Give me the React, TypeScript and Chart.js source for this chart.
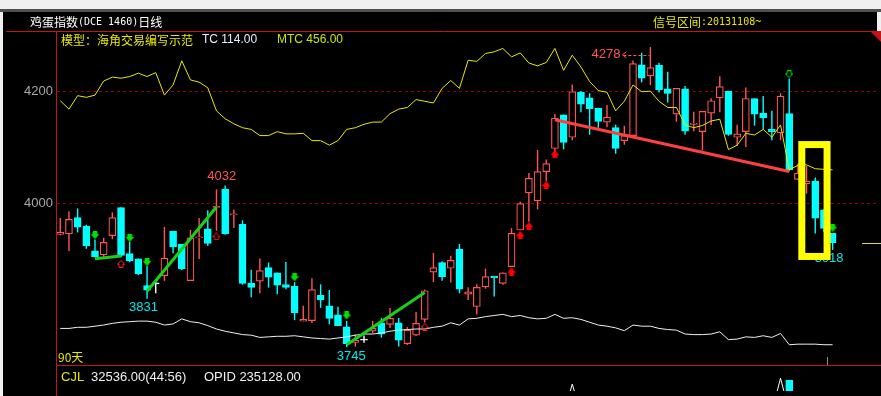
import React, { useEffect, useRef } from 'react';
import { Chart, registerables } from 'chart.js';

Chart.register(...registerables);

// ---------- data ----------
const opens = [3945,3946,3975,3960,3916,3909,3943,3993,3911,3902,
 3854,3858,3872,3951,3928,3863,3939,3955,3993,4026,
 3980,3963,3858,3862,3886,3877,3856,3853,3791,3792,
 3837,3818,3802,3781,3753,3758,3773,3788,3785,3788,
 3751,3766,3794,3878,3895,3885,3919,3839,3817,3852,
 3870,3858,3888,3953,4019,4005,4057,4098,4158,4118,
 4198,4188,4170,4145,4135,4112,4121,4247,4227,4246,
 4204,4159,4204,4141,4128,4161,4188,4200,4118,4128,
 4187,4161,4132,4126,4160,4043,4035,4040,3989,3947];

const highs = [3974,3986,3991,3962,3936,3939,3984,3993,3932,3902,
 3889,3865,3958,3951,3928,3953,3974,3988,4025,4032,
 3989,3970,3882,3902,3895,3877,3896,3860,3818,3867,
 3856,3846,3816,3791,3767,3765,3791,3796,3814,3796,
 3780,3807,3847,3912,3897,3907,3928,3851,3856,3884,
 3870,3877,3956,4003,4054,4095,4078,4159,4158,4211,
 4200,4196,4170,4175,4140,4138,4254,4268,4278,4250,
 4234,4205,4209,4163,4164,4187,4226,4200,4140,4206,
 4187,4191,4165,4196,4222,4071,4067,4046,3990,3947];

const lows = [3944,3916,3949,3920,3905,3905,3937,3905,3896,3873,
 3831,3841,3863,3912,3882,3863,3902,3925,3952,3945,
 3957,3856,3834,3841,3851,3839,3848,3793,3791,3788,
 3815,3786,3783,3745,3746,3753,3770,3762,3779,3746,
 3749,3765,3789,3861,3863,3860,3841,3829,3803,3849,
 3835,3856,3888,3953,3968,3990,4040,4089,4097,4113,
 4163,4123,4135,4136,4089,4105,4121,4216,4211,4198,
 4180,4146,4123,4129,4095,4140,4163,4121,4103,4101,
 4139,4132,4113,4113,4058,4043,4018,3947,3950,3918];

const closes = [3949,3972,3958,3925,3905,3931,3975,3908,3898,3875,
 3846,3858,3903,3923,3884,3939,3941,3929,3995,3946,
 3982,3858,3851,3881,3869,3855,3851,3806,3794,3847,
 3829,3796,3783,3751,3757,3758,3778,3768,3796,3757,
 3775,3787,3845,3886,3870,3899,3848,3843,3851,3870,
 3869,3877,3947,4000,4045,4057,4071,4152,4109,4199,
 4177,4169,4146,4154,4098,4121,4249,4223,4242,4202,
 4196,4205,4129,4143,4164,4183,4208,4123,4124,4187,
 4159,4153,4128,4191,4060,4054,4040,3974,3956,3930];

// yellow indicator line (drawn on the price scale)
const yellowLine = [4183,4168,4192,4189,4193,4218,4225,4223,4226,4232,
 4226,4233,4193,4211,4254,4220,4216,4206,4165,4151,
 4142,4135,4132,4121,4121,4128,4124,4124,4125,4112,
 4112,4104,4112,4132,4135,4141,4145,4145,4160,4168,
 4171,4185,4182,4179,4205,4219,4205,4255,4253,4267,
 4270,4276,4261,4268,4250,4245,4251,4276,4237,4264,
 4243,4217,4201,4198,4165,4182,4211,4199,4200,4182,
 4171,4171,4140,4135,4139,4147,4150,4096,4104,4125,
 4122,4132,4118,4140,4060,4068,4069,4062,4061,4060];

// white "90天" line (drawn on the price scale)
const whiteLine = [3778,3778,3780,3780,3782,3784,3787,3789,3790,3791,
 3791,3789,3784,3786,3795,3790,3788,3783,3777,3773,
 3770,3767,3766,3762,3763,3764,3764,3765,3763,3761,
 3760,3759,3761,3763,3766,3768,3768,3770,3773,3775,
 3776,3777,3777,3780,3782,3788,3784,3795,3796,3799,
 3801,3803,3799,3801,3797,3795,3796,3803,3796,3797,
 3794,3789,3784,3782,3779,3774,3784,3782,3782,3778,
 3776,3775,3768,3767,3767,3768,3772,3758,3759,3763,
 3762,3765,3762,3769,3749,3750,3750,3750,3749,3749];

const volumes = [21500,19800,22400,18600,20300,17900,24100,26800,19500,18200,
 23600,16400,21800,19300,20700,22900,17600,18800,23400,27900,
 16900,25300,19100,18400,17200,16800,17500,24600,15900,21300,
 17800,19600,18300,22700,15400,14800,16200,17900,18700,20100,
 17300,18900,22500,23800,19400,20600,25700,16600,21900,19200,
 15800,18100,26900,27600,28400,29100,24300,28800,27200,29500,
 24700,23900,21600,22300,25100,19700,29800,26400,28100,25800,
 22100,23700,26300,18500,24900,21200,23100,26200,17100,25600,
 20800,19900,18600,24400,32200,21700,19300,27400,22800,16500];

const volumeMA = [22000,21800,21900,21500,21300,21000,21400,22200,22000,21600,
 21800,21200,21300,21100,21200,21500,21300,21000,21400,22300,
 21800,22200,21900,21600,21200,20800,20600,21000,20500,20400,
 20300,20200,20000,20300,19800,19300,19100,18900,18800,19000,
 18900,19100,19500,20100,20300,20600,21400,21100,21500,21700,
 21400,21200,22300,23400,24100,24900,24600,25300,25400,31400,
 25400,24800,24200,23900,24000,23500,24600,24800,25100,25200,
 24600,24300,24500,24000,24100,23700,23900,24300,23600,24000,
 23800,23600,25800,32600,25800,25500,25200,25600,25300,24900];

const priceTicks = [4000, 4200];

const greenDownIdx = [4, 8, 10, 27, 33, 89];
const greenDownPrice = [3944, 3939, 3896, 3869, 3801, 3957];
const greenHollowDownIdx = [84];
const greenHollowDownPrice = [4230];
const redHollowUpIdx = [7, 18, 42];
const redHollowUpPrice = [3893, 3942, 3781];
const redFilledUpIdx = [52, 53, 54, 56, 57];
const redFilledUpPrice = [3879, 3944, 3960, 4033, 4088];

// trend lines: [startIdx, startPrice, endIdx, endPrice]
const greenTrendLines = [
  [4, 3902, 7, 3907],
  [10, 3844, 18, 3994],
  [33, 3749, 42, 3842],
];
const redTrendLine = [57, 4149, 84, 4057];

const highLabelIdx = [19];
const lowLabelIdx = [10, 33, 89];
const peakArrowIdx = 68;

const highlightIdx = [85.45, 88.36];
const highlightPrice = [4105, 3906];

const title = '鸡蛋指数';
const titleCode = '(DCE 1460)';
const titleTail = '日线';
const signalLabel = '信号区间';
const signalValue = ':20131108~';
const modelText = '模型：海角交易编写示范';
const tcText = 'TC 114.00';
const mtcText = 'MTC 456.00';
const periodText = '90天';
const cjlLabel = 'CJL';
const cjlValue = '32536.00(44:56)';
const opidText = 'OPID 235128.00';

// ---------- styles ----------
const RED = '#ff5555';
const CYAN = '#00ffff';
const CJK = "'Noto Sans CJK SC', sans-serif";
const MONO = "'DejaVu Sans Mono', monospace";
const SANS = "'Liberation Sans', Arial, sans-serif";
const LOW_LABEL_DX = [-3.5, 4.5, -3.5];

function makeArrow(color: string, filled: boolean, down: boolean) {
  const c = document.createElement('canvas');
  c.width = 8;
  c.height = 8;
  const g = c.getContext('2d')!;
  const pts = [
    [2, 0.5], [6, 0.5], [6, 3.5], [7.5, 3.5], [4, 7.5], [0.5, 3.5], [2, 3.5],
  ];
  g.beginPath();
  pts.forEach(([x, y], k) => {
    const yy = down ? y : 8 - y;
    if (k === 0) g.moveTo(x, yy);
    else g.lineTo(x, yy);
  });
  g.closePath();
  if (filled) {
    g.fillStyle = color;
    g.fill();
  }
  g.strokeStyle = color;
  g.lineWidth = 1;
  g.stroke();
  return c;
}

export default function App() {
  const ref = useRef<HTMLCanvasElement>(null);

  useEffect(() => {
    document.body.style.margin = '0';
    document.body.style.background = '#f0f0f0';
    const canvas = ref.current;
    if (!canvas) return;

    const n = opens.length;
    const idx = opens.map((_, i) => i);
    const isUp = (i: number) => closes[i] > opens[i];
    const isFlat = (i: number) => closes[i] === opens[i];
    const candleColor = (i: number) => (isFlat(i) ? '#ffffff' : isUp(i) ? RED : CYAN);

    const wickData = idx.map((i) => ({ x: i, y: [lows[i], highs[i]] }));
    const bodyData = idx.map((i) => {
      const o = opens[i];
      const c = closes[i];
      const lo = Math.min(o, c);
      const hi = Math.max(o, c);
      return { x: i, y: hi - lo < 2 ? [lo - 0.9, hi + 0.9] : [lo, hi] };
    });
    const volData = idx.map((i) => ({ x: i, y: volumes[i] }));

    const pts = (ix: number[], pr: number[]) => ix.map((x, k) => ({ x, y: pr[k] }));

    const arrowGreenFilled = makeArrow('#00e000', true, true);
    const arrowGreenHollow = makeArrow('#00e000', false, true);
    const arrowRedHollow = makeArrow('#ff2020', false, false);
    const arrowRedFilled = makeArrow('#ff0000', true, false);

    const overlay = {
      id: 'overlay',
      afterDatasetsDraw(chart: any) {
        const ctx = chart.ctx;
        const xs = chart.scales.x;
        const ys = chart.scales.y;
        ctx.save();
        ctx.font = `13px ${SANS}`;
        ctx.textBaseline = 'middle';
        ctx.textAlign = 'center';
        highLabelIdx.forEach((i) => {
          ctx.fillStyle = RED;
          ctx.fillText(String(highs[i]), xs.getPixelForValue(i) - 3.5, ys.getPixelForValue(highs[i]) - 9);
        });
        lowLabelIdx.forEach((i, k) => {
          ctx.fillStyle = '#00e8e8';
          ctx.fillText(String(lows[i]), xs.getPixelForValue(i) + LOW_LABEL_DX[k], ys.getPixelForValue(lows[i]) + 9);
        });
        // peak label with dashed arrow
        const px = xs.getPixelForValue(peakArrowIdx);
        const py = ys.getPixelForValue(highs[peakArrowIdx]) + 7.5;
        ctx.textAlign = 'right';
        ctx.fillStyle = RED;
        ctx.fillText(String(highs[peakArrowIdx]), px - 30, py);
        ctx.strokeStyle = RED;
        ctx.lineWidth = 1;
        ctx.beginPath();
        ctx.moveTo(px - 24, py - 3);
        ctx.lineTo(px - 28, py);
        ctx.lineTo(px - 24, py + 3);
        ctx.stroke();
        ctx.setLineDash([3, 2]);
        ctx.beginPath();
        ctx.moveTo(px - 27, Math.round(py) + 0.5);
        ctx.lineTo(px - 1, Math.round(py) + 0.5);
        ctx.stroke();
        ctx.setLineDash([]);
        // highlight box
        const bx0 = xs.getPixelForValue(highlightIdx[0]);
        const bx1 = xs.getPixelForValue(highlightIdx[1]);
        const by0 = ys.getPixelForValue(highlightPrice[0]);
        const by1 = ys.getPixelForValue(highlightPrice[1]);
        ctx.strokeStyle = '#ffff00';
        ctx.lineWidth = 7;
        ctx.strokeRect(bx0, by0, bx1 - bx0, by1 - by0);
        // last price marker
        const lp = Math.round(ys.getPixelForValue(closes[n - 1])) + 0.5;
        ctx.lineWidth = 1;
        ctx.strokeStyle = '#d8d860';
        ctx.beginPath();
        ctx.moveTo(862, lp);
        ctx.lineTo(881, lp);
        ctx.stroke();
        ctx.restore();
      },
      afterDraw(chart: any) {
        const ctx = chart.ctx;
        const area = chart.chartArea;
        const xs = chart.scales.x;
        ctx.save();
        // small gray cursor tick above the panel divider
        const gx = Math.round(xs.getPixelForValue(n - 1.6)) + 0.5;
        ctx.strokeStyle = '#909090';
        ctx.lineWidth = 1;
        ctx.beginPath();
        ctx.moveTo(gx, 357);
        ctx.lineTo(gx, 366);
        ctx.stroke();
        // separators
        ctx.strokeStyle = '#c41414';
        ctx.beginPath();
        ctx.moveTo(6, 31.5);
        ctx.lineTo(881, 31.5);
        ctx.moveTo(area.left - 0.5, 31);
        ctx.lineTo(area.left - 0.5, 396);
        ctx.moveTo(area.left, 365.5);
        ctx.lineTo(881, 365.5);
        ctx.stroke();
        ctx.fillStyle = '#c41414';
        ctx.beginPath();
        ctx.moveTo(871, 32);
        ctx.lineTo(881, 32);
        ctx.lineTo(881, 42);
        ctx.closePath();
        ctx.fill();

        ctx.textBaseline = 'middle';
        ctx.textAlign = 'left';
        // title row
        let x = 30;
        ctx.fillStyle = '#ffffff';
        ctx.font = `12px ${CJK}`;
        ctx.fillText(title, x, 22);
        x += ctx.measureText(title).width;
        ctx.font = `10px ${MONO}`;
        ctx.fillText(titleCode, x, 22);
        x += ctx.measureText(titleCode).width;
        ctx.font = `12px ${CJK}`;
        ctx.fillText(titleTail, x, 22);

        x = 653;
        ctx.fillStyle = '#e8e800';
        ctx.font = `12px ${CJK}`;
        ctx.fillText(signalLabel, x, 22);
        x += ctx.measureText(signalLabel).width;
        ctx.font = `10px ${MONO}`;
        ctx.fillText(signalValue, x, 22);

        // model row
        ctx.font = `12px ${CJK}`;
        ctx.fillStyle = '#e8e800';
        ctx.fillText(modelText, 61, 40);
        ctx.font = `12px ${SANS}`;
        ctx.fillStyle = '#e8ecff';
        ctx.fillText(tcText, 202, 40);
        ctx.fillStyle = '#c8e400';
        ctx.fillText(mtcText, 277, 40);

        // bottom rows
        ctx.font = `12px ${CJK}`;
        ctx.fillStyle = '#e8e800';
        ctx.fillText(periodText, 58, 357);
        ctx.font = `13px ${SANS}`;
        ctx.fillText(cjlLabel, 61, 377);
        ctx.fillStyle = '#f0f0f0';
        ctx.fillText(cjlValue, 91, 377);
        ctx.fillText(opidText, 204, 377);
        ctx.restore();
      },
    };

    const chart = new Chart(canvas, {
      type: 'bar',
      data: {
        datasets: [
          {
            type: 'bar',
            label: 'wick',
            data: wickData as any,
            backgroundColor: idx.map(candleColor),
            barThickness: 1,
            inflateAmount: 0.2,
            grouped: false,
            order: 20,
          } as any,
          {
            type: 'bar',
            label: 'body',
            data: bodyData as any,
            backgroundColor: idx.map((i) => (isFlat(i) ? '#ffffff' : isUp(i) ? '#000000' : CYAN)),
            borderColor: idx.map(candleColor),
            borderWidth: 1.2,
            borderSkipped: false,
            barThickness: 7,
            grouped: false,
            order: 19,
          } as any,
          {
            type: 'bar',
            label: 'volume',
            data: volData as any,
            yAxisID: 'yv',
            backgroundColor: idx.map((i) => (isUp(i) ? '#000000' : CYAN)),
            borderColor: idx.map(candleColor),
            borderWidth: 1,
            borderSkipped: false,
            barThickness: 7,
            grouped: false,
            order: 18,
          } as any,
          {
            type: 'line',
            label: 'volumeMA',
            data: idx.map((i) => ({ x: i, y: volumeMA[i] })),
            yAxisID: 'yv',
            borderColor: '#ffffff',
            borderWidth: 1,
            pointRadius: 0,
            order: 17,
          } as any,
          {
            type: 'line',
            label: '90天',
            data: idx.map((i) => ({ x: i, y: whiteLine[i] })),
            borderColor: '#f0f0f0',
            borderWidth: 1,
            pointRadius: 0,
            order: 16,
          } as any,
          {
            type: 'line',
            label: 'yellow',
            data: idx.map((i) => ({ x: i, y: yellowLine[i] })),
            borderColor: '#e8e800',
            borderWidth: 1,
            pointRadius: 0,
            order: 15,
          } as any,
          ...greenTrendLines.map((t, k) => ({
            type: 'line',
            label: 'g' + k,
            data: [{ x: t[0], y: t[1] }, { x: t[2], y: t[3] }],
            borderColor: '#18d018',
            borderWidth: 3,
            pointRadius: 0,
            order: 10,
          })) as any,
          {
            type: 'line',
            label: 'r',
            data: [{ x: redTrendLine[0], y: redTrendLine[1] }, { x: redTrendLine[2], y: redTrendLine[3] }],
            borderColor: '#ff4040',
            borderWidth: 3,
            pointRadius: 0,
            order: 10,
          } as any,
          {
            type: 'scatter',
            label: 'gd',
            data: pts(greenDownIdx, greenDownPrice),
            pointStyle: arrowGreenFilled,
            pointRadius: 4,
            order: 5,
          } as any,
          {
            type: 'scatter',
            label: 'gh',
            data: pts(greenHollowDownIdx, greenHollowDownPrice),
            pointStyle: arrowGreenHollow,
            pointRadius: 4,
            order: 5,
          } as any,
          {
            type: 'scatter',
            label: 'rh',
            data: pts(redHollowUpIdx, redHollowUpPrice),
            pointStyle: arrowRedHollow,
            pointRadius: 4,
            order: 5,
          } as any,
          {
            type: 'scatter',
            label: 'rf',
            data: pts(redFilledUpIdx, redFilledUpPrice),
            pointStyle: arrowRedFilled,
            pointRadius: 4,
            order: 5,
          } as any,
        ],
      },
      options: {
        animation: false,
        responsive: false,
        devicePixelRatio: 1,
        events: [],
        layout: { padding: { left: 0, top: 31, right: 0, bottom: 0 } },
        plugins: { legend: { display: false }, tooltip: { enabled: false } },
        scales: {
          x: {
            type: 'linear',
            display: false,
            offset: false,
            min: -0.378,
            max: 94.0,
            grid: { offset: false },
          },
          y: {
            type: 'linear',
            position: 'left',
            min: 3666.7,
            max: 4307.0,
            afterBuildTicks: (s: any) => {
              s.ticks = priceTicks.map((v) => ({ value: v }));
            },
            afterFit: (s: any) => {
              s.width = 57;
              s.paddingTop = 0;
              s.paddingBottom = 0;
            },
            ticks: {
              color: '#a8a8a8',
              font: { family: 'Liberation Sans', size: 13 },
              padding: 4,
              callback: (v: any) => String(v),
            },
            grid: { color: '#900000', drawTicks: false, lineWidth: 1 },
            border: { display: false, dash: [3, 3] },
          },
          yv: {
            type: 'linear',
            display: false,
            min: 30000,
            max: 103000,
          },
        } as any,
      },
      plugins: [overlay],
    } as any);

    return () => chart.destroy();
  }, []);

  return (
    <div style={{ position: 'relative', width: 881, height: 396, background: '#f0f0f0', overflow: 'hidden' }}>
      <div style={{ position: 'absolute', left: 0, top: 9, width: 881, height: 3, background: '#505050' }} />
      <div style={{ position: 'absolute', left: 3, top: 12, width: 878, height: 384, background: '#000000' }} />
      <div style={{ position: 'absolute', left: 877, top: 12, width: 4, height: 19, background: '#f0f0f0' }} />
      <canvas ref={ref} width={881} height={396} style={{ position: 'absolute', left: 0, top: 0 }} />
    </div>
  );
}
